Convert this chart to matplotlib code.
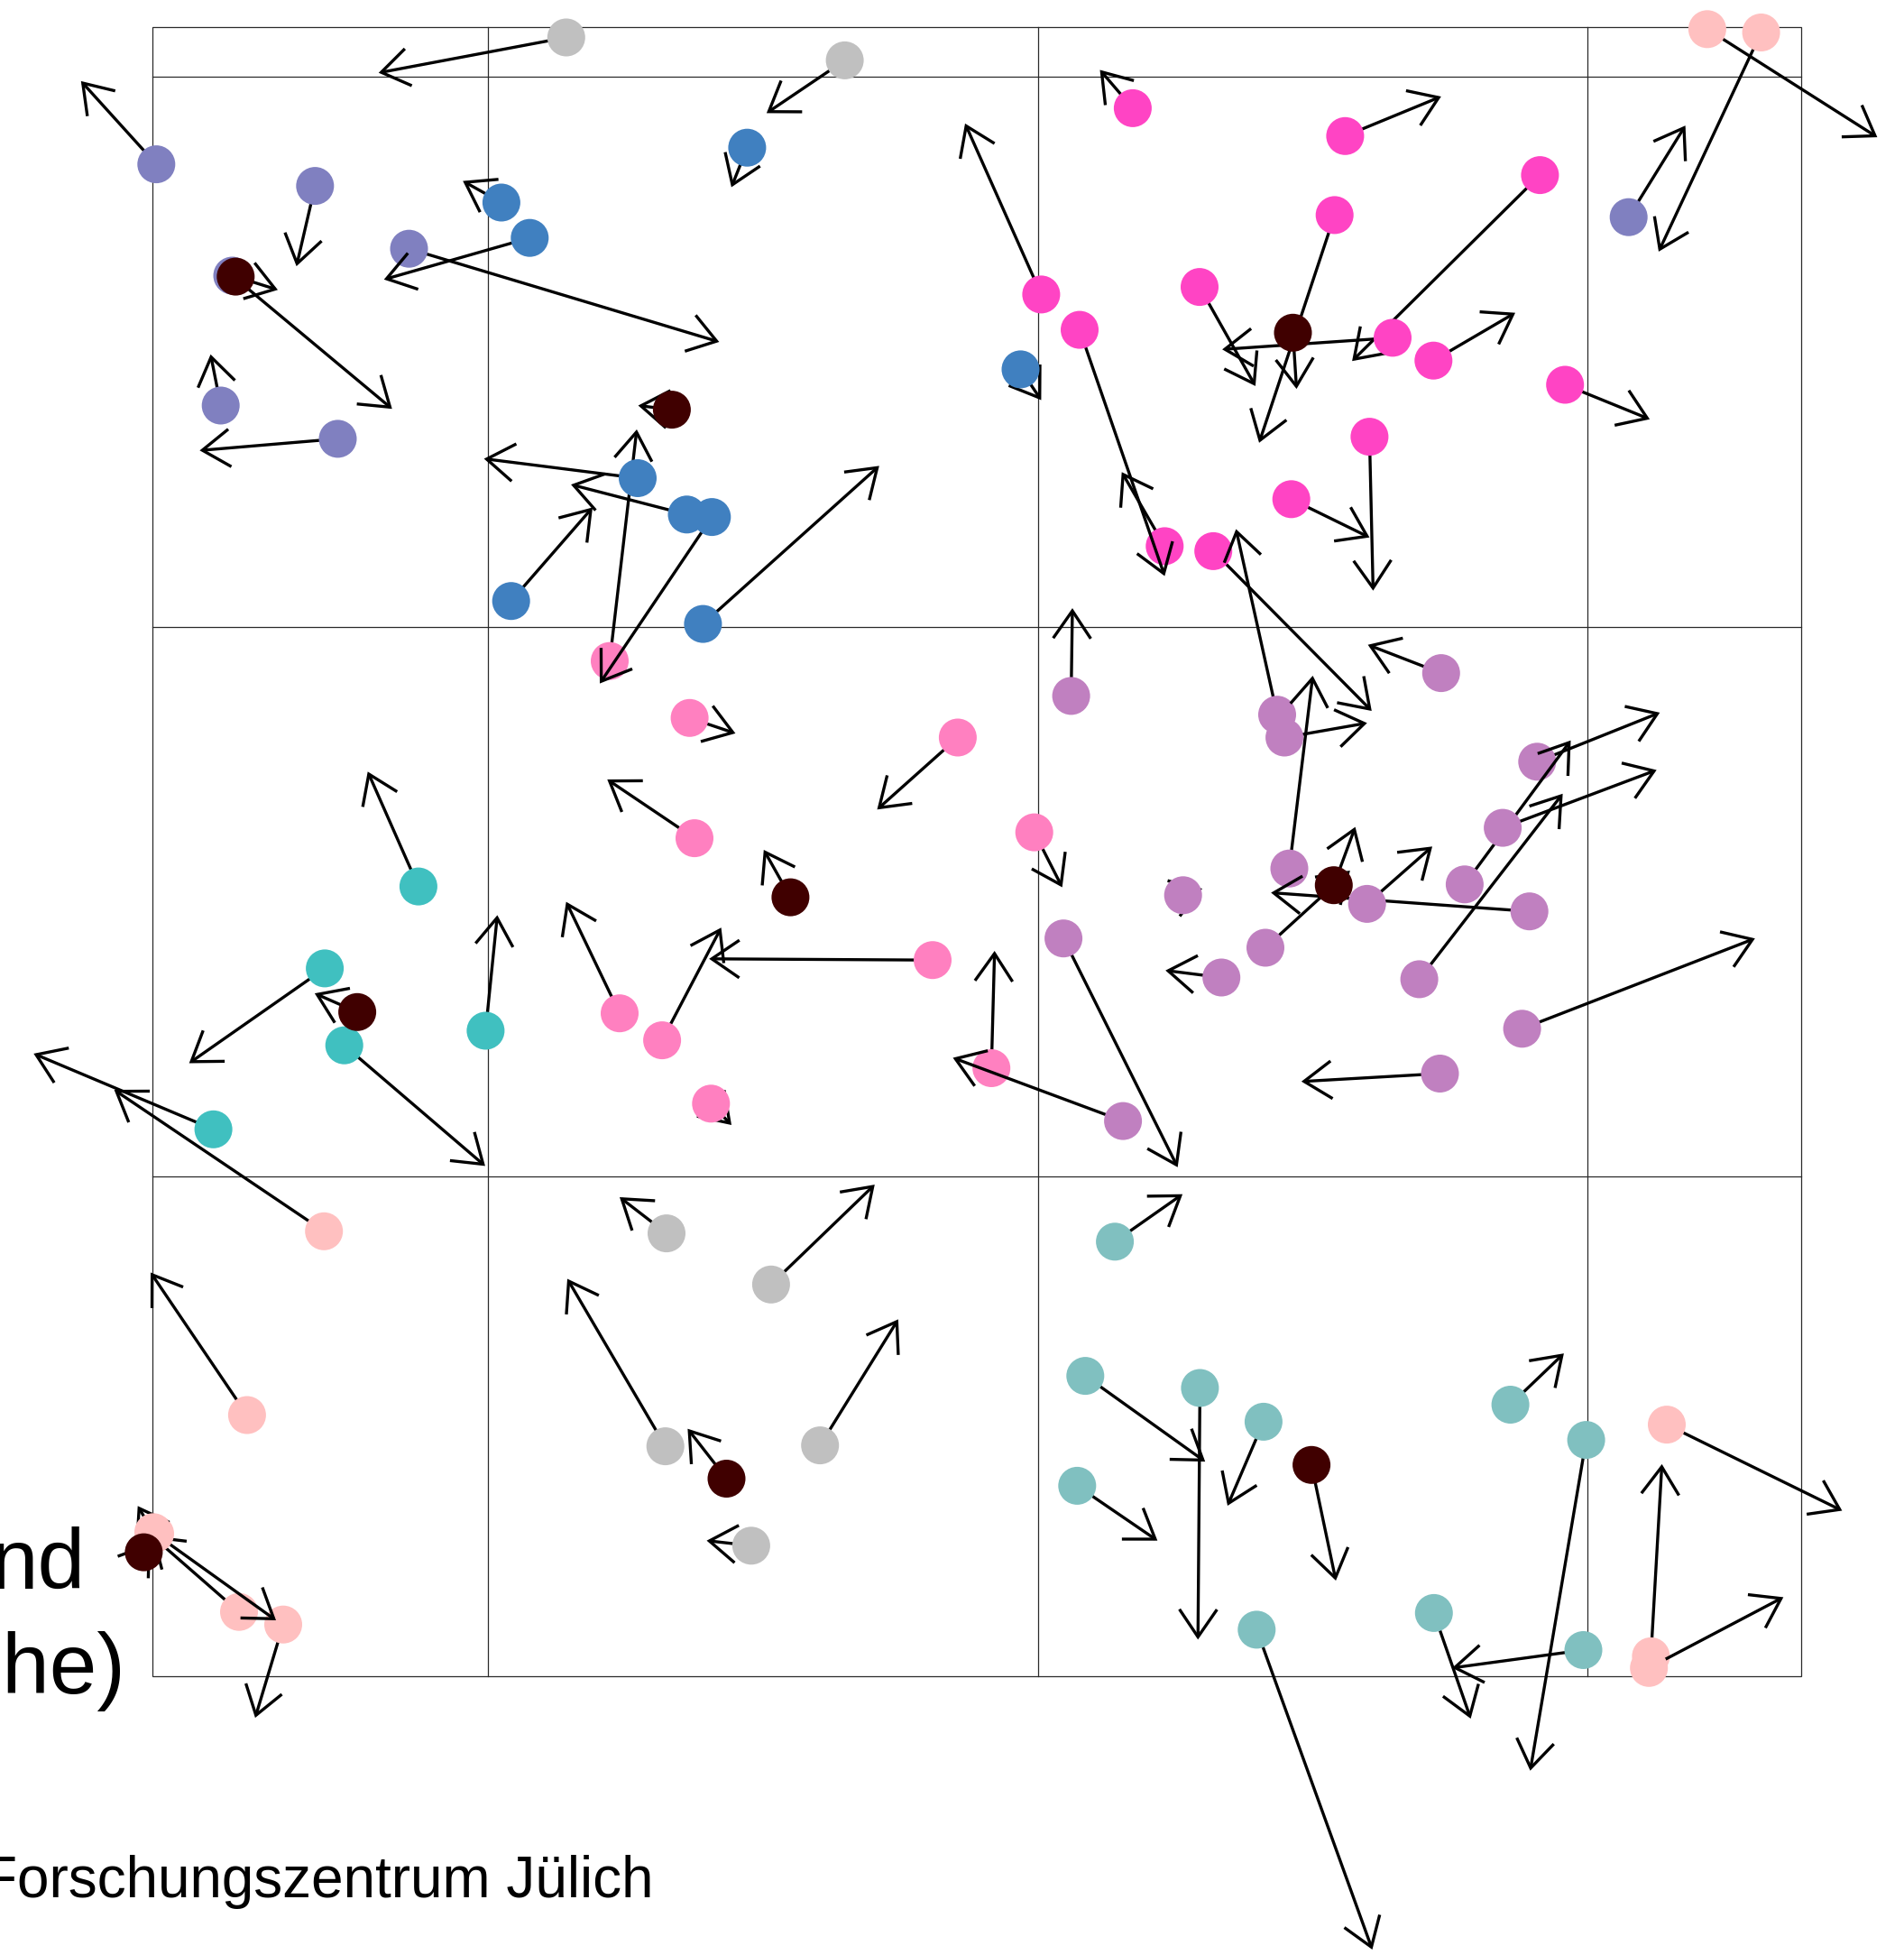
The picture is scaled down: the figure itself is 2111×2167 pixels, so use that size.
import matplotlib
matplotlib.use("Agg")
import matplotlib.pyplot as plt
from matplotlib.patches import Circle, FancyArrowPatch, Rectangle, ArrowStyle

# Canvas / floor plan size (plan units, y grows downward)
W, H = 2111, 2167

# Walking area frame and floor tiling
AREA_X = (169, 1997)
AREA_Y = (30, 1858)
TILE = 609.5
TILE_X0, TILE_Y0 = 541, 85

# Pedestrian groups: position (x, y) and velocity arrow tip (tx, ty)
lav_x = [173.3, 349.3, 453.5, 257.5, 244.7, 374.5, 1805.7]
lav_y = [182.1, 206.1, 275.7, 305.5, 449.5, 486.4, 240.7]
lav_tx = [89.8, 328.7, 797.4, 434.7, 233.5, 221.4, 1868.6]
lav_ty = [89.9, 295.1, 379.0, 453.2, 392.8, 499.3, 139.2]

gray_x = [627.8, 936.6, 739.0, 854.9, 737.7, 909.2, 832.9]
gray_y = [41.5, 66.9, 1367.1, 1423.8, 1603.1, 1602.1, 1713.3]
gray_tx = [419.8, 849.9, 687.0, 969.8, 629.0, 995.9, 783.5]
gray_ty = [80.7, 125.4, 1327.0, 1313.1, 1417.5, 1462.4, 1707.7]

sal_x = [1892.9, 1952.6, 359.2, 273.9, 1848.0, 1830.4, 1828.2, 265.0, 314.0, 172.0, 170.0]
sal_y = [32.3, 36.0, 1364.8, 1568.5, 1579.1, 1835.9, 1848.8, 1786.7, 1800.7, 1700.0, 1698.3]
sal_tx = [2081.4, 1839.0, 126.6, 167.0, 2042.4, 1842.6, 1977.3, 168.0, 282.9, 306.0, 152.7]
sal_ty = [152.1, 278.9, 1208.0, 1410.5, 1674.5, 1622.9, 1770.4, 1702.0, 1904.1, 1796.0, 1669.3]

teal_x = [463.9, 360.1, 381.7, 538.4, 236.6]
teal_y = [982.6, 1073.4, 1158.7, 1142.5, 1251.8]
teal_tx = [407.7, 209.7, 537.9, 551.4, 37.3]
teal_ty = [855.3, 1178.5, 1292.4, 1014.4, 1167.9]

t2_x = [1236.1, 1203.3, 1330.4, 1400.9, 1194.3, 1393.3, 1674.6, 1758.6, 1589.8, 1755.5]
t2_y = [1376.3, 1525.1, 1538.5, 1575.9, 1646.9, 1806.4, 1557.0, 1596.1, 1787.9, 1829.0]
t2_tx = [1311.1, 1336.2, 1328.2, 1361.0, 1283.3, 1521.5, 1733.9, 1696.6, 1630.6, 1610.0]
t2_ty = [1323.7, 1620.1, 1817.4, 1669.0, 1707.7, 2161.0, 1500.2, 1962.7, 1905.0, 1848.8]

pink_x = [676.0, 764.6, 1061.9, 770.0, 1034.0, 734.1, 788.3, 1146.7, 1099.2, 687.0]
pink_y = [732.7, 795.8, 817.5, 929.1, 1064.2, 1153.1, 1223.3, 922.6, 1184.0, 1123.2]
pink_tx = [706.0, 815.4, 972.5, 673.3, 786.2, 799.6, 811.0, 1177.7, 1102.7, 627.7]
pink_ty = [476.0, 812.9, 897.3, 864.0, 1062.8, 1028.2, 1247.0, 983.5, 1054.0, 999.6]

mag_x = [1154.4, 1255.9, 1291.3, 1197.0, 1330.0, 1345.2, 1491.4, 1707.4, 1479.7, 1544.0, 1589.3, 1735.2, 1518.4, 1431.7]
mag_y = [326.4, 119.9, 605.4, 365.6, 318.1, 610.9, 150.8, 194.1, 238.4, 374.4, 399.7, 426.5, 484.1, 553.3]
mag_tx = [1070.0, 1219.5, 1243.7, 1291.3, 1391.9, 1520.8, 1597.8, 1499.1, 1396.0, 1355.1, 1680.0, 1829.1, 1522.4, 1518.4]
mag_ty = [136.9, 77.5, 523.3, 638.5, 427.9, 788.0, 107.0, 400.2, 490.8, 387.3, 346.7, 464.7, 654.7, 595.7]

orc_x = [1187.6, 1179.1, 1245.1, 1311.7, 1354.2, 1597.8, 1416.0, 1424.1, 1704.3, 1623.9, 1666.1,
         1573.6, 1429.5, 1695.7, 1515.7, 1403.0, 1596.5, 1687.6]
orc_y = [771.4, 1040.2, 1242.6, 992.3, 1083.5, 746.1, 792.2, 817.5, 844.3, 980.3, 917.6,
         1085.4, 962.7, 1010.2, 1001.9, 1050.5, 1190.0, 1140.3]
orc_tx = [1189.0, 1305.7, 1056.5, 1333.0, 1292.2, 1516.6, 1370.4, 1515.7, 1840.3, 1741.5, 1836.7,
          1732.6, 1455.5, 1409.2, 1588.0, 1496.8, 1442.9, 1945.8]
orc_ty = [674.1, 1293.8, 1172.5, 985.0, 1075.7, 714.7, 586.5, 801.4, 789.9, 820.7, 853.5,
          879.8, 749.0, 989.5, 938.3, 965.0, 1198.8, 1040.2]

blue_x = [555.9, 587.3, 707.0, 761.5, 789.3, 566.7, 779.4, 828.4, 1131.5]
blue_y = [224.5, 263.7, 530.0, 570.3, 573.1, 666.2, 691.6, 163.7, 409.4]
blue_tx = [513.2, 425.7, 536.6, 633.1, 665.0, 657.0, 974.8, 810.9, 1154.4]
blue_ty = [200.6, 309.8, 508.5, 537.1, 757.6, 562.5, 516.4, 207.5, 443.5]

mar_x = [261.3, 744.9, 1433.5, 876.4, 396.1, 1478.8, 805.5, 1454.1, 159.4]
mar_y = [306.6, 454.1, 368.8, 994.6, 1121.8, 981.2, 1639.0, 1623.8, 1720.6]
mar_tx = [308.0, 707.6, 1437.5, 846.8, 348.9, 1502.6, 762.4, 1481.1, 167.0]
mar_ty = [321.3, 449.5, 431.1, 942.0, 1101.1, 916.6, 1583.7, 1752.0, 1710.0]

# drawing order of the groups (later groups lie on top)
groups = [
    ("#8080C0", lav_x, lav_y, lav_tx, lav_ty),
    ("#C0C0C0", gray_x, gray_y, gray_tx, gray_ty),
    ("#FFC0C0", sal_x, sal_y, sal_tx, sal_ty),
    ("#40C0C0", teal_x, teal_y, teal_tx, teal_ty),
    ("#80C0C0", t2_x, t2_y, t2_tx, t2_ty),
    ("#FF80C0", pink_x, pink_y, pink_tx, pink_ty),
    ("#FF44C4", mag_x, mag_y, mag_tx, mag_ty),
    ("#C080C0", orc_x, orc_y, orc_tx, orc_ty),
    ("#4080C0", blue_x, blue_y, blue_tx, blue_ty),
    ("#400000", mar_x, mar_y, mar_tx, mar_ty),
]

BODY_R = 21
GRID_COLOR = "#2a2a2a"

fig = plt.figure(figsize=(W / 100, H / 100), dpi=100)
ax = fig.add_axes([0, 0, 1, 1])
ax.set_xlim(0, W)
ax.set_ylim(H, 0)
ax.set_aspect("equal")
ax.axis("off")

# floor tiling inside the frame
ax.add_patch(Rectangle((AREA_X[0], AREA_Y[0]), AREA_X[1] - AREA_X[0], AREA_Y[1] - AREA_Y[0],
                       fill=False, lw=0.9, ec=GRID_COLOR, zorder=0))
gx = TILE_X0
while gx < AREA_X[1]:
    ax.plot([gx, gx], AREA_Y, color=GRID_COLOR, lw=0.9, zorder=0)
    gx += TILE
gy = TILE_Y0
while gy < AREA_Y[1]:
    ax.plot(AREA_X, [gy, gy], color=GRID_COLOR, lw=0.9, zorder=0)
    gy += TILE

head = ArrowStyle("->", head_length=22, head_width=15)
z = 1
for color, xs, ys, txs, tys in groups:
    for x, y, tx, ty in zip(xs, ys, txs, tys):
        arr = FancyArrowPatch((x, y), (tx, ty), arrowstyle=head, mutation_scale=1,
                              lw=2.4, color="black", shrinkA=0, shrinkB=0,
                              joinstyle="miter", capstyle="butt", zorder=z)
        ax.add_patch(arr)
        ax.add_patch(Circle((x, y), BODY_R, fc=color, ec="none", zorder=z + 1))
        z += 2

font = "Liberation Sans"
ax.text(95, 1761, "nd", fontsize=68, family=font, ha="right", va="baseline", zorder=z)
ax.text(139, 1877, "che)", fontsize=68, family=font, ha="right", va="baseline", zorder=z)
ax.text(-20, 2103, "Forschungszentrum Jülich", fontsize=46, family=font,
        ha="left", va="baseline", zorder=z)

fig.savefig("out.png", dpi=100)
